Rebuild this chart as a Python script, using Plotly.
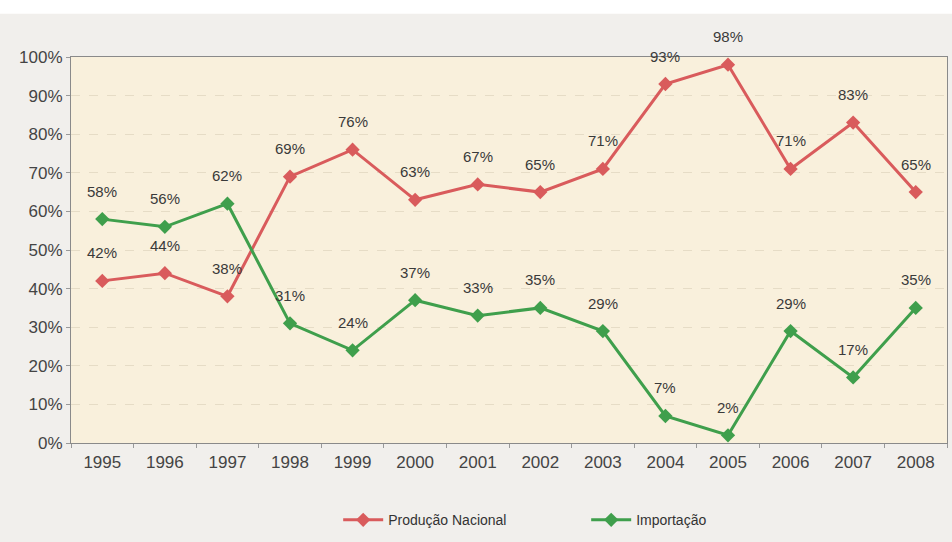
import plotly.graph_objects as go

years = ["1995", "1996", "1997", "1998", "1999", "2000", "2001",
         "2002", "2003", "2004", "2005", "2006", "2007", "2008"]
producao = [42, 44, 38, 69, 76, 63, 67, 65, 71, 93, 98, 71, 83, 65]
importacao = [58, 56, 62, 31, 24, 37, 33, 35, 29, 7, 2, 29, 17, 35]
y_ticks = [0, 10, 20, 30, 40, 50, 60, 70, 80, 90, 100]

red = "#d95b5c"
green = "#3f9f4c"
font_family = "Liberation Sans, Arial, sans-serif"
label_font = dict(family=font_family, size=15, color="#3a3a3a")
tick_font = dict(family=font_family, size=17, color="#444")

fig = go.Figure()
fig.add_trace(go.Scatter(
    x=years, y=producao, name="Produção Nacional", mode="lines+markers",
    line=dict(color=red, width=3),
    marker=dict(symbol="diamond", size=11, color=red),
))
fig.add_trace(go.Scatter(
    x=years, y=importacao, name="Importação", mode="lines+markers",
    line=dict(color=green, width=3),
    marker=dict(symbol="diamond", size=11, color=green),
))

# value labels above each point (x given as category index)
for series in (producao, importacao):
    for i, v in enumerate(series):
        fig.add_annotation(x=i, y=v, text=f"{v}%", showarrow=False,
                           yshift=28, font=label_font)

fig.update_layout(
    width=952, height=542,
    margin=dict(l=71, r=5, t=57, b=99),
    paper_bgcolor="#f1efec",
    plot_bgcolor="#f9f0dc",
    showlegend=True,
    legend=dict(orientation="h", x=0.305, xanchor="left", y=-0.2, yanchor="middle",
                font=dict(family=font_family, size=14, color="#333"),
                itemwidth=40, entrywidth=193, bgcolor="rgba(0,0,0,0)"),
    shapes=[dict(type="rect", xref="paper", yref="paper", x0=-0.2, x1=1.1,
                 y0=1.112, y1=1.2, fillcolor="white", line=dict(width=0), layer="below")],
)
fig.update_xaxes(
    type="category", categoryorder="array", categoryarray=years,
    range=[-0.5, len(years) - 0.5], tickangle=0,
    tickson="boundaries", ticks="outside", ticklen=4, ticklabelstandoff=4,
    tickcolor="#999", showline=True, linecolor="#8a8a8a", linewidth=1, mirror=True,
    showgrid=False, tickfont=tick_font,
)
fig.update_yaxes(
    range=[0, 100], tickvals=y_ticks, ticktext=[f"{t}%" for t in y_ticks],
    ticks="outside", ticklen=4, tickcolor="#999",
    showline=True, linecolor="#8a8a8a", linewidth=1, mirror=True,
    showgrid=True, gridcolor="#e6dcc6", griddash="dash", gridwidth=1,
    zeroline=False, tickfont=tick_font,
)

fig.write_html("out.html")
